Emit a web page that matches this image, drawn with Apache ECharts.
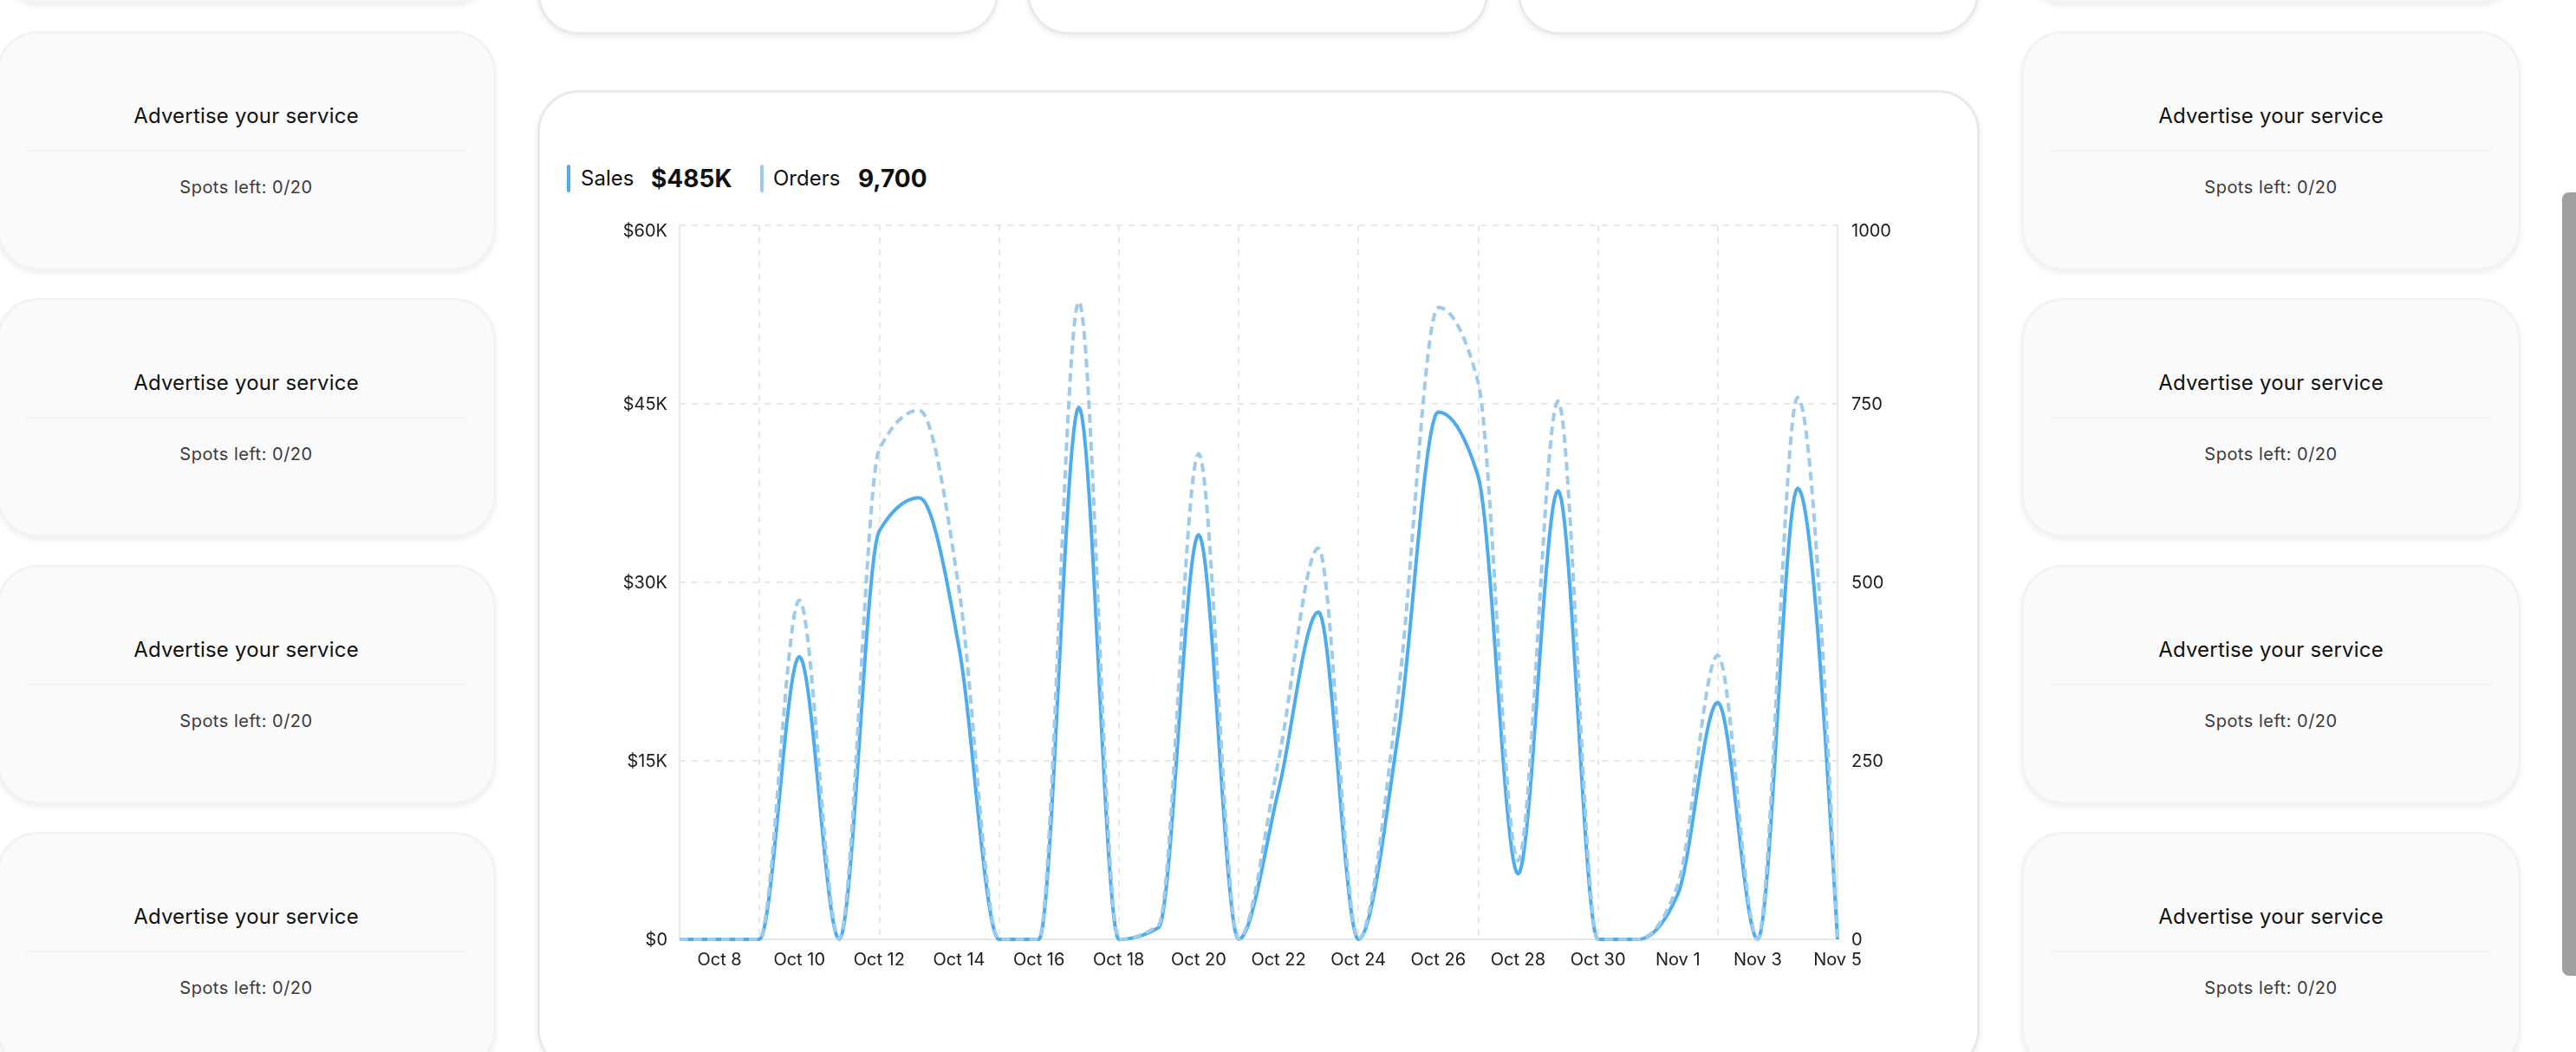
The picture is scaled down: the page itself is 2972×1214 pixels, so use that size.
<!DOCTYPE html>
<html>
<head>
<meta charset="utf-8">
<title>Sales and orders</title>
<script src="https://cdn.jsdelivr.net/npm/echarts@6/dist/echarts.min.js"></script>
<style>
  html, body { margin: 0; height: 100%; overflow: hidden; background: #fff; font-family: Inter, sans-serif; }
  .card { position: absolute; box-sizing: border-box; border-radius: 48px; background: #fff; border: 3px solid #e9e9ee; box-shadow: 0 3px 6px rgba(30, 30, 60, .07); }
  .ad { width: 576px; height: 276px; background: #fafafa; border-color: #f1f3f6; color: #111; text-align: center; }
  .ad .name { position: absolute; left: 0; right: 0; top: 79px; line-height: 32px; font-size: 24px; letter-spacing: .2px; }
  .ad hr { position: absolute; left: 31px; right: 31px; top: 134px; margin: 0; border: 0; border-top: 2px solid #eff2f6; }
  .ad .spots { position: absolute; left: 0; right: 0; top: 163px; line-height: 28px; font-size: 20px; color: #3a3a40; letter-spacing: .5px; }
  #head { position: absolute; left: 654px; top: 190px; height: 32px; color: #111; }
  #head span { position: absolute; top: 0; line-height: 32px; white-space: nowrap; }
  #head i { position: absolute; top: 0; width: 4px; height: 32px; border-radius: 2px; }
  #head .lab { font-size: 24px; }
  #head .val { font-size: 28px; font-weight: 700; }
  #chart { position: absolute; left: 620px; top: 230px; width: 1664px; height: 920px; }
  #bar { position: absolute; left: 2956px; top: 222px; width: 16px; height: 904px; border-radius: 8px 0 0 8px; background: #a0a0a0; }
</style>
</head>
<body>
<div id="page"></div>
<div id="head"></div>
<div id="chart"></div>
<div id="bar"></div>
<script>
// 日期
const categories = ["Oct 7", "Oct 8", "Oct 9", "Oct 10", "Oct 11", "Oct 12", "Oct 13", "Oct 14", "Oct 15", "Oct 16",
  "Oct 17", "Oct 18", "Oct 19", "Oct 20", "Oct 21", "Oct 22", "Oct 23", "Oct 24", "Oct 25", "Oct 26",
  "Oct 27", "Oct 28", "Oct 29", "Oct 30", "Oct 31", "Nov 1", "Nov 2", "Nov 3", "Nov 4", "Nov 5"];
// 销售额（左轴）
const salesValues = [0, 0, 0, 23750, 0, 34300, 37100, 24500, 0, 0,
  44700, 0, 1000, 34000, 0, 12500, 27500, 0, 17300, 44300,
  38900, 5500, 37700, 0, 0, 3800, 19900, 0, 37900, 0];
// 订单数（右轴）
const orderValues = [0, 0, 0, 475, 0, 686, 741, 490, 0, 0,
  893, 0, 20, 680, 0, 250, 548, 0, 345, 885,
  780, 110, 754, 0, 0, 76, 398, 0, 759, 0];
const salesTicks = [0, 15000, 30000, 45000, 60000];
const orderTicks = [0, 250, 500, 750, 1000];
const headerItems = [["Sales", "$485K"], ["Orders", "9,700"]];
const adTitle = "Advertise your service";
const adSpots = "Spots left: 0/20";

const SALES_COLOR = "#4dabf0";
const ORDERS_COLOR = "#9ccbec";
const GRID_COLOR = "#e8e8ec";
const LABEL_COLOR = "#1c1c20";

// 页面上的卡片
const page = document.querySelector("#page");
function addCard(left, top, width, height, cls, html) {
  const el = document.createElement("div");
  el.className = "card " + (cls || "");
  el.style.left = left + "px";
  el.style.top = top + "px";
  if (width) el.style.width = width + "px";
  if (height) el.style.height = height + "px";
  el.innerHTML = html || "";
  page.appendChild(el);
}
[-4, 2332].forEach((left) => {
  for (let i = -1; i < 4; i++) {
    addCard(left, 36 + i * 308, 0, 0, "ad",
      `<div class="name">${adTitle}</div><hr><div class="spots">${adSpots}</div>`);
  }
});
[620, 1185, 1751].forEach((left) => addCard(left, -200, 532, 240));
addCard(620, 104, 1664, 1132);

// 图表上方的汇总
const head = document.querySelector("#head");
const headPos = [[0, 16, 97], [223, 238, 336]];
headerItems.forEach((item, i) => {
  head.innerHTML += `<i style="left:${headPos[i][0]}px;background:${i ? ORDERS_COLOR : SALES_COLOR}"></i>` +
    `<span class="lab" style="left:${headPos[i][1]}px">${item[0]}</span>` +
    `<span class="val" style="left:${headPos[i][2]}px">${item[1]}</span>`;
});

// 单调三次曲线的切线（相邻两段斜率异号或为零时切线为水平）
function monotoneSlopes(ys) {
  const d = ys.slice(1).map((y, i) => y - ys[i]);
  const t = ys.map((y, i) => {
    if (i === 0 || i === ys.length - 1) return null;
    const s0 = d[i - 1];
    const s1 = d[i];
    const p = (s0 + s1) / 2;
    return (Math.sign(s0) + Math.sign(s1)) * Math.min(Math.abs(s0), Math.abs(s1), 0.5 * Math.abs(p));
  });
  t[0] = (3 * d[0] - t[1]) / 2;
  t[ys.length - 1] = (3 * d[d.length - 1] - t[ys.length - 2]) / 2;
  return t;
}

// 按单调曲线绘制整条折线，节点坐标由 api.coord 换算，节点之间在像素空间取样
function monotoneLine(values, lineStyle) {
  return (params, api) => {
    if (params.dataIndex !== 0) return null;
    const knots = values.map((v, i) => api.coord([i, v]));
    const ys = knots.map((p) => p[1]);
    const slopes = monotoneSlopes(ys);
    const points = [];
    for (let i = 0; i < knots.length - 1; i++) {
      const c1 = ys[i] + slopes[i] / 3;
      const c2 = ys[i + 1] - slopes[i + 1] / 3;
      for (let s = 0; s < 24; s++) {
        const u = s / 24;
        const v = 1 - u;
        points.push([
          knots[i][0] + (knots[i + 1][0] - knots[i][0]) * u,
          v * v * v * ys[i] + 3 * v * v * u * c1 + 3 * v * u * u * c2 + u * u * u * ys[i + 1],
        ]);
      }
    }
    points.push(knots[knots.length - 1]);
    return {
      type: "polyline",
      shape: { points },
      style: { fill: null, lineJoin: "round", ...lineStyle },
    };
  };
}

const labelStyle = { color: LABEL_COLOR, fontSize: 20, fontFamily: "Inter" };
const topLabel = { top: { ...labelStyle, padding: [12, 0, 0, 0] } };

const myChart = echarts.init(document.querySelector("#chart"));
myChart.setOption({
  animation: false,
  grid: { left: 164, top: 30, width: 1336, height: 824 },
  xAxis: {
    type: "category",
    data: categories,
    boundaryGap: false,
    axisTick: { show: false },
    axisLine: { lineStyle: { color: GRID_COLOR, width: 2 } },
    axisLabel: { ...labelStyle, margin: 14, interval: (i) => i % 2 === 1 },
    // 每隔三天一条竖线
    splitLine: {
      show: true,
      interval: (i) => i % 3 === 2,
      lineStyle: { color: GRID_COLOR, width: 2, type: [7, 7] },
    },
  },
  yAxis: [
    {
      type: "value",
      min: salesTicks[0],
      max: salesTicks[salesTicks.length - 1],
      interval: salesTicks[1],
      axisLine: { show: true, lineStyle: { color: GRID_COLOR, width: 2 } },
      axisTick: { show: false },
      axisLabel: {
        ...labelStyle,
        margin: 14,
        padding: [2, 0, 0, 0],
        rich: topLabel,
        formatter: (v) => (v === 60000 ? "{top|$60K}" : "$" + (v ? v / 1000 + "K" : "0")),
      },
      splitLine: { show: true, lineStyle: { color: GRID_COLOR, width: 2, type: [7, 7] } },
    },
    {
      type: "value",
      min: orderTicks[0],
      max: orderTicks[orderTicks.length - 1],
      interval: orderTicks[1],
      position: "right",
      axisLine: { show: true, lineStyle: { color: GRID_COLOR, width: 2 } },
      axisTick: { show: false },
      axisLabel: {
        ...labelStyle,
        margin: 16,
        padding: [2, 0, 0, 0],
        rich: topLabel,
        formatter: (v) => (v === 1000 ? "{top|1000}" : String(v)),
      },
      splitLine: { show: false },
    },
  ],
  series: [
    {
      name: "Sales",
      type: "custom",
      yAxisIndex: 0,
      data: salesValues.map((v, i) => [i, v]),
      encode: { x: 0, y: 1 },
      clip: false,
      renderItem: monotoneLine(salesValues, { stroke: SALES_COLOR, lineWidth: 4 }),
    },
    {
      name: "Orders",
      type: "custom",
      yAxisIndex: 1,
      data: orderValues.map((v, i) => [i, v]),
      encode: { x: 0, y: 1 },
      clip: false,
      renderItem: monotoneLine(orderValues, { stroke: ORDERS_COLOR, lineWidth: 4, lineDash: [10, 6] }),
    },
  ],
});
</script>
</body>
</html>
